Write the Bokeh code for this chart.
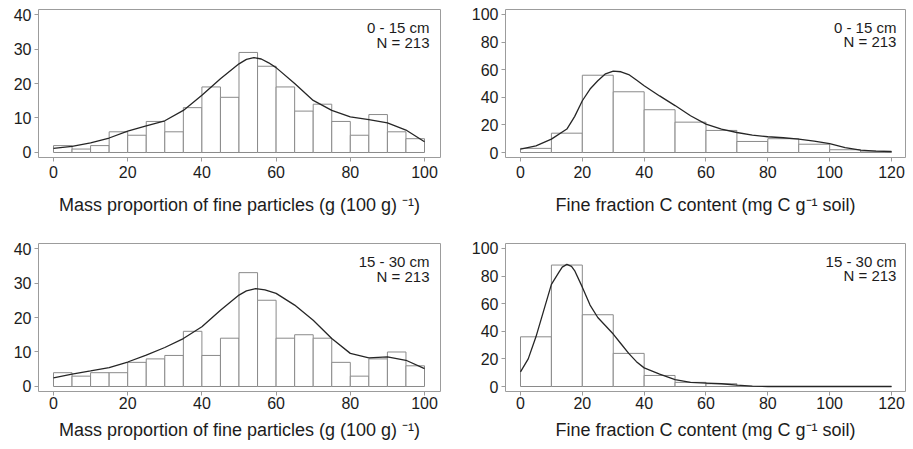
from bokeh.plotting import figure
from bokeh.layouts import gridplot
from bokeh.models import Label, FixedTicker
from bokeh.embed import file_html
from bokeh.resources import INLINE

# ---------------- data ----------------
mass_edges = [0, 5, 10, 15, 20, 25, 30, 35, 40, 45, 50, 55, 60, 65, 70, 75, 80, 85, 90, 95, 100]
mass_counts_0_15 = [2, 1, 2, 6, 5, 9, 6, 13, 19, 16, 29, 25, 19, 12, 14, 9, 5, 11, 6, 4]
mass_counts_15_30 = [4, 3, 4, 4, 7, 8, 9, 16, 9, 14, 33, 25, 14, 15, 14, 7, 3, 8, 10, 6]

carbon_edges = [0, 10, 20, 30, 40, 50, 60, 70, 80, 90, 100, 110, 120]
carbon_counts_0_15 = [3, 14, 56, 44, 31, 22, 16, 8, 10, 6, 2, 1]
carbon_counts_15_30 = [36, 88, 52, 24, 8, 3, 2, 0, 0, 0, 0, 0]

mass_curve_x_0_15 = [0, 5, 10, 15, 20, 25, 30, 35, 40, 45, 50, 52, 54, 56, 58, 60, 65, 70, 75, 80, 85, 90, 95, 100]
mass_curve_y_0_15 = [1.2, 1.8, 2.8, 4.2, 6.2, 7.7, 9.2, 12.2, 16.6, 21.4, 25.7, 27.0, 27.5, 27.1, 26.0, 24.6, 20.0, 15.1, 12.2, 10.3, 9.5, 8.6, 6.5, 3.1]

mass_curve_x_15_30 = [0, 5, 10, 15, 20, 25, 30, 35, 40, 45, 50, 52, 54.5, 57, 60, 65, 70, 75, 80, 85, 90, 95, 100]
mass_curve_y_15_30 = [2.5, 3.6, 4.5, 5.5, 7.1, 9.1, 11.3, 13.9, 17.3, 22.1, 26.5, 27.7, 28.4, 28.0, 27.0, 23.6, 19.2, 13.9, 9.6, 8.3, 8.6, 7.6, 5.2]

carbon_curve_x_0_15 = [0, 5, 10, 15, 17.5, 20, 22.5, 25, 27.5, 30, 32.5, 35, 37.5, 40, 45, 50, 55, 60, 65, 70, 75, 80, 85, 90, 95, 100, 105, 110, 115, 120]
carbon_curve_y_0_15 = [2.4, 4.8, 9.7, 17, 26, 37.5, 46, 52, 57, 59, 58.5, 56.5, 52.5, 48.4, 41, 34, 26.6, 20.6, 17, 14.5, 12.6, 11.4, 10.7, 9.7, 8.2, 6.5, 3.6, 1.7, 1.0, 0.7]

carbon_curve_x_15_30 = [0, 2.5, 5, 7.5, 10, 12.5, 13.5, 15, 16.5, 17.5, 20, 22.5, 25, 27.5, 30, 32.5, 35, 37.5, 40, 45, 50, 55, 60, 65, 70, 75, 80, 90, 100, 110, 120]
carbon_curve_y_15_30 = [10.6, 20, 36, 55, 74, 83, 86.5, 88.5, 87, 84, 72, 59, 50, 44, 38, 31, 24, 18, 13.5, 9, 5, 3, 2.5, 2, 1, 0.3, 0, 0, 0, 0, 0]

mass_ticks = [0, 20, 40, 60, 80, 100]
mass_count_ticks = [0, 10, 20, 30, 40]
carbon_ticks = [0, 20, 40, 60, 80, 100, 120]
carbon_count_ticks = [0, 20, 40, 60, 80, 100]

mass_label = "Mass proportion of fine particles (g (100 g) \u207b\u00b9)"
carbon_label = "Fine fraction C content (mg C g\u207b\u00b9 soil)"
depth_labels = ["0 - 15 cm", "15 - 30 cm"]
n_label = "N = 213"

FONT = "Liberation Sans"
FRAME_GREY = "#9c9c9c"
BAR_GREY = "#8a8a8a"
CURVE = "#262626"
TEXT = "#1c1c1c"


def make_panel(edges, counts, cx, cy, x_range, y_range, xticks, yticks, xlabel,
               depth, label_x, label_y1, label_y2, border, fw, row):
    left_b, right_b, top_b, bottom_b = border
    p = figure(frame_width=fw, frame_height=148,
               x_range=x_range, y_range=y_range,
               output_backend="svg", toolbar_location=None,
               min_border_left=left_b, min_border_right=right_b,
               min_border_top=top_b, min_border_bottom=bottom_b)
    p.grid.visible = False
    p.outline_line_color = FRAME_GREY
    p.outline_line_width = 1
    p.background_fill_color = "white"
    p.border_fill_color = "white"

    p.quad(left=edges[:-1], right=edges[1:], bottom=0, top=counts,
           fill_color="white", line_color=BAR_GREY, line_width=1)
    p.line(cx, cy, line_color=CURVE, line_width=1.3)

    for ax in (p.xaxis[0], p.yaxis[0]):
        ax.axis_line_color = None
        ax.major_tick_out = 4
        ax.major_tick_in = 0
        ax.minor_tick_out = 0
        ax.minor_tick_in = 0
        ax.major_tick_line_color = FRAME_GREY
        ax.major_label_text_font = FONT
        ax.major_label_text_font_size = "16px"
        ax.major_label_text_color = TEXT
    p.xaxis.ticker = FixedTicker(ticks=xticks)
    p.yaxis.ticker = FixedTicker(ticks=yticks)
    p.yaxis.major_label_standoff = 3
    p.xaxis.major_label_standoff = 4 if row == 0 else 1
    p.xaxis.axis_label = xlabel
    p.xaxis.axis_label_text_font = FONT
    p.xaxis.axis_label_text_font_size = "18px"
    p.xaxis.axis_label_text_font_style = "normal"
    p.xaxis.axis_label_text_color = TEXT
    p.xaxis.axis_label_standoff = 14 if row == 0 else 8

    p.add_layout(Label(x=label_x, y=label_y1, text=depth, text_align="right",
                       text_baseline="alphabetic", text_font=FONT,
                       text_font_size="15px", text_color=TEXT))
    p.add_layout(Label(x=label_x, y=label_y2, text=n_label, text_align="right",
                       text_baseline="alphabetic", text_font=FONT,
                       text_font_size="15px", text_color=TEXT))
    return p


mass_xr = (-4.04, 104.31)
mass_yr = (-1.45, 41.45)
carb_xr = (-4.85, 124.53)
carb_yr = (-3.62, 103.62)

p1 = make_panel(mass_edges, mass_counts_0_15, mass_curve_x_0_15, mass_curve_y_0_15,
                mass_xr, mass_yr, mass_ticks, mass_count_ticks, mass_label,
                depth_labels[0], 101.35, 36.2, 32.0, (38, 28, 9, 75), 402, 0)
p2 = make_panel(carbon_edges, carbon_counts_0_15, carbon_curve_x_0_15, carbon_curve_y_0_15,
                carb_xr, carb_yr, carbon_ticks, carbon_count_ticks, carbon_label,
                depth_labels[0], 121.6, 90.6, 80.1, (36, 9, 9, 75), 400, 0)
p3 = make_panel(mass_edges, mass_counts_15_30, mass_curve_x_15_30, mass_curve_y_15_30,
                mass_xr, mass_yr, mass_ticks, mass_count_ticks, mass_label,
                depth_labels[1], 101.35, 36.2, 32.0, (38, 28, 11, 55), 402, 1)
p4 = make_panel(carbon_edges, carbon_counts_15_30, carbon_curve_x_15_30, carbon_curve_y_15_30,
                carb_xr, carb_yr, carbon_ticks, carbon_count_ticks, carbon_label,
                depth_labels[1], 121.6, 90.6, 80.1, (36, 9, 11, 55), 400, 1)

grid = gridplot([[p1, p2], [p3, p4]], toolbar_location=None)

open("out.html", "w").write(file_html(grid, INLINE))
